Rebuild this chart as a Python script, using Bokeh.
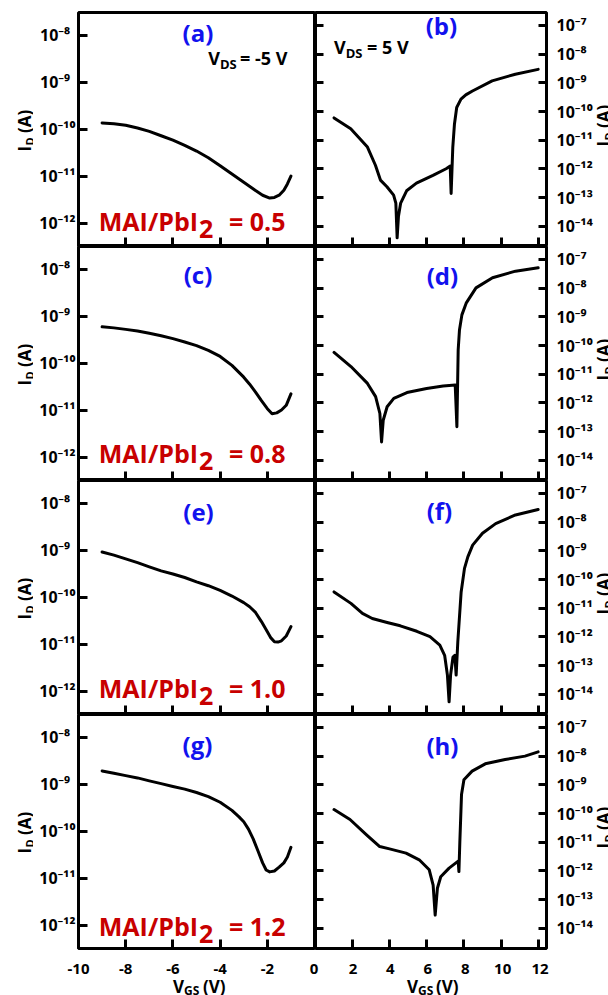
import math
from bokeh.plotting import figure
from bokeh.layouts import column, row
from bokeh.models import FixedTicker, Label, Range1d, LogAxis, CustomJSTickFormatter
from bokeh.embed import file_html
from bokeh.resources import INLINE

# ---------------- data ----------------
# left column: V_DS = -5 V
vgs_a = [-9, -8.5, -8, -7.5, -7, -6.5, -6, -5.5, -5, -4.5, -4, -3.5, -3, -2.5, -2.2,
         -1.9, -1.7, -1.5, -1.3, -1.15, -1]
id_a = [1.35e-10, 1.29e-10, 1.2e-10, 1.05e-10, 8.9e-11, 7.2e-11, 5.8e-11, 4.5e-11,
        3.4e-11, 2.45e-11, 1.66e-11, 1.1e-11, 7.4e-12, 4.9e-12, 3.9e-12, 3.4e-12,
        3.5e-12, 3.9e-12, 5.0e-12, 6.8e-12, 1.0e-11]

vgs_c = [-9, -8.5, -8, -7.5, -7, -6.5, -6, -5.5, -5, -4.5, -4, -3.5, -3, -2.75, -2.5,
         -2.25, -2, -1.8, -1.6, -1.4, -1.2, -1]
id_c = [5.9e-10, 5.6e-10, 5.2e-10, 4.8e-10, 4.3e-10, 3.8e-10, 3.3e-10, 2.8e-10,
        2.35e-10, 1.86e-10, 1.38e-10, 8.9e-11, 5.0e-11, 3.55e-11, 2.4e-11, 1.58e-11,
        1.07e-11, 8.3e-12, 8.7e-12, 1.0e-11, 1.26e-11, 2.2e-11]

vgs_e = [-9, -8.5, -8, -7.5, -7, -6.5, -6, -5.5, -5, -4.5, -4, -3.5, -3, -2.75, -2.5,
         -2.25, -2, -1.85, -1.7, -1.55, -1.4, -1.2, -1]
id_e = [9.1e-10, 7.8e-10, 6.5e-10, 5.4e-10, 4.4e-10, 3.6e-10, 3.1e-10, 2.6e-10,
        2.1e-10, 1.74e-10, 1.38e-10, 1.05e-10, 7.6e-11, 6.2e-11, 4.7e-11, 3.0e-11,
        1.82e-11, 1.35e-11, 1.12e-11, 1.1e-11, 1.17e-11, 1.48e-11, 2.35e-11]

vgs_g = [-9, -8.5, -8, -7.5, -7, -6.5, -6, -5.5, -5, -4.5, -4, -3.5, -3.2, -3, -2.8,
         -2.6, -2.4, -2.2, -2.05, -1.9, -1.7, -1.5, -1.3, -1.15, -1]
id_g = [1.9e-9, 1.7e-9, 1.51e-9, 1.35e-9, 1.17e-9, 1.02e-9, 8.9e-10, 7.8e-10, 6.6e-10,
        5.4e-10, 4.1e-10, 2.75e-10, 2.0e-10, 1.58e-10, 1.1e-10, 6.8e-11, 3.8e-11,
        2.1e-11, 1.48e-11, 1.35e-11, 1.41e-11, 1.7e-11, 2.1e-11, 2.8e-11, 4.5e-11]

# right column: V_DS = 5 V
vgs_b = [1.0, 1.9, 2.8, 3.23, 3.5, 3.85, 4.21, 4.33, 4.4, 4.47, 4.59, 4.91, 5.44,
         6.33, 7.04, 7.26, 7.31, 7.4, 7.49, 7.61, 7.84, 8.1, 8.46, 9.52, 10.77, 12.0]
id_b = [6.0e-11, 2.5e-11, 5.8e-12, 1.35e-12, 4.1e-13, 2.4e-13, 1.23e-13, 6.5e-14,
        4.0e-15, 2.2e-14, 6.5e-14, 1.74e-13, 3.2e-13, 6.0e-13, 1.02e-12, 1.26e-12,
        1.41e-13, 5.8e-12, 3.7e-11, 1.38e-10, 2.7e-10, 3.8e-10, 5.2e-10, 1.17e-9,
        2.0e-9, 2.95e-9]

vgs_d = [1.0, 1.91, 2.8, 3.24, 3.47, 3.56, 3.65, 3.86, 4.22, 4.93, 5.99, 6.88, 7.53,
         7.62, 7.69, 7.76, 7.89, 8.12, 8.65, 9.54, 10.78, 12.0]
id_d = [5.8e-11, 1.86e-11, 4.8e-12, 1.66e-12, 4.3e-13, 4.4e-14, 2.5e-13, 7.4e-13,
        1.45e-12, 2.3e-12, 3.2e-12, 3.9e-12, 4.2e-12, 1.48e-13, 7.1e-11, 3.5e-10,
        1.17e-9, 3.0e-9, 1.02e-8, 2.3e-8, 3.9e-8, 5.1e-8]

vgs_f = [1.0, 1.91, 2.53, 3.06, 3.86, 4.57, 5.46, 6.17, 6.7, 6.96, 7.11, 7.2, 7.28,
         7.41, 7.51, 7.58, 7.67, 7.85, 8.03, 8.21, 8.47, 9.0, 9.71, 10.78, 12.0]
id_f = [3.7e-11, 1.48e-11, 6.6e-12, 4.4e-12, 3.2e-12, 2.45e-12, 1.58e-12, 1.02e-12,
        5.2e-13, 2.3e-13, 4.7e-14, 5.5e-15, 4.7e-14, 2.0e-13, 2.3e-13, 4.7e-14,
        6.8e-13, 3.7e-11, 2.45e-10, 6.2e-10, 1.58e-9, 4.1e-9, 8.9e-9, 1.78e-8, 2.75e-8]

vgs_h = [1.0, 1.86, 2.75, 3.46, 3.99, 4.88, 5.59, 6.13, 6.34, 6.45, 6.57, 6.75, 7.2,
         7.69, 7.73, 7.78, 7.87, 8.0, 8.44, 9.15, 10.22, 11.29, 12.0]
id_h = [1.38e-10, 6.2e-11, 1.82e-11, 7.1e-12, 5.9e-12, 4.2e-12, 2.45e-12, 1.1e-12,
        3.2e-13, 2.9e-14, 2.5e-13, 6.3e-13, 1.26e-12, 2.2e-12, 9.5e-13, 1.07e-11,
        4.6e-10, 1.51e-9, 3.0e-9, 5.4e-9, 7.6e-9, 1.0e-8, 1.41e-8]

panel_letters = ["(a)", "(b)", "(c)", "(d)", "(e)", "(f)", "(g)", "(h)"]
ratios = ["0.5", "0.8", "1.0", "1.2"]

SP = "\u2004"  # pad so that left tick labels line up on their left side
left_y_ticks = [1e-12, 1e-11, 1e-10, 1e-9, 1e-8]
left_y_labels = ["10\u207b\u00b9\u00b2", "10\u207b\u00b9\u00b9", "10\u207b\u00b9\u2070",
                 "10\u207b\u2079" + SP, "10\u207b\u2078" + SP]
right_y_ticks = [1e-14, 1e-13, 1e-12, 1e-11, 1e-10, 1e-9, 1e-8, 1e-7]
right_y_labels = ["10\u207b\u00b9\u2074", "10\u207b\u00b9\u00b3", "10\u207b\u00b9\u00b2",
                  "10\u207b\u00b9\u00b9", "10\u207b\u00b9\u2070", "10\u207b\u2079",
                  "10\u207b\u2078", "10\u207b\u2077"]
left_x_ticks = [-10, -8, -6, -4, -2]
left_x_labels = ["-10", "-8", "-6", "-4", "-2"]
right_x_ticks = [0, 2, 4, 6, 8, 10, 12]
right_x_labels = ["0", "2", "4", "6", "8", "10", "12"]

# ---------------- geometry (page pixels) ----------------
COL_X = [(78, 315), (315, 548)]
ROW_TOP = [12, 246, 480, 714]
ROW_H = 234
X_RANGES = [(-10, 0.04), (0, 12.45)]
Y_LOG = [(-12.5, -7.52), (-14.7, -6.55)]
STRIP_L = 33
STRIP_R = 13
FIG_W = [282, 280]
BORDER_L = 45
BORDER_R = 47
FIG_H = [246, 234, 234, 236]
STRIP_B = 995 - sum(FIG_H)
STRIP_B_TOP = sum(FIG_H)

FONT = "Open Sans"
TICK_FONT = "Noto Sans"
BLUE = "#1212ee"
RED = "#c80000"
NBSP = "\u00a0"


def to_data(r, c, px, py):
    x0p, x1p = COL_X[c]
    xa, xb = X_RANGES[c]
    x = xa + (px - x0p) / (x1p - x0p) * (xb - xa)
    la, lb = Y_LOG[c]
    l = lb - (py - ROW_TOP[r]) / ROW_H * (lb - la)
    return float(x), float(10 ** l)


def page_x(c, xv):
    x0p, x1p = COL_X[c]
    xa, xb = X_RANGES[c]
    return x0p + (xv - xa) / (xb - xa) * (x1p - x0p)


def label(p, x, y, text, size, color="black", style="bold", align="left",
          angle=0.0, font=FONT):
    p.add_layout(Label(x=x, y=y, text=text, text_font=font,
                       text_font_size=f"{size}px", text_font_style=style,
                       text_color=color, text_align=align,
                       text_baseline="middle", angle=angle))


def put(p, r, c, px, py, text, size, **kw):
    x, y = to_data(r, c, px, py)
    label(p, x, y, text, size, **kw)


def formatter(tvals, tlabels):
    return CustomJSTickFormatter(args=dict(tvals=tvals, tlabels=tlabels), code="""
        for (let i = 0; i < tvals.length; i++) {
            if (Math.abs(tvals[i] - tick) <= 1e-6 * Math.abs(tvals[i])) return tlabels[i];
        }
        return "";
    """)


def style_axis(ax, tvals, tlabels, tick_len, show, standoff=0, size=16):
    ax.ticker = FixedTicker(ticks=tvals)
    ax.major_tick_in = tick_len
    ax.major_tick_out = 0
    ax.major_tick_line_width = 3
    ax.major_tick_line_color = "black"
    ax.minor_tick_line_color = None
    ax.axis_line_color = None
    if show:
        ax.formatter = formatter(tvals, tlabels)
        ax.major_label_text_font = TICK_FONT
        ax.major_label_text_font_style = "bold"
        ax.major_label_text_font_size = f"{size}px"
        ax.major_label_text_color = "black"
        ax.major_label_standoff = standoff
    else:
        ax.major_label_text_font_size = "1px"
        ax.major_label_text_color = None
        ax.major_label_standoff = 0


def strip(w, h):
    s = figure(width=w, height=h, x_range=Range1d(0, w), y_range=Range1d(h, 0),
               output_backend="svg", toolbar_location=None, min_border=0,
               x_axis_location=None, y_axis_location=None)
    s.outline_line_color = None
    s.grid.visible = False
    s.background_fill_color = "white"
    s.border_fill_color = "white"
    return s


data = [(vgs_a, id_a), (vgs_b, id_b), (vgs_c, id_c), (vgs_d, id_d),
        (vgs_e, id_e), (vgs_f, id_f), (vgs_g, id_g), (vgs_h, id_h)]

letter_pos = [(197.5, 32), (442, 25), (197.5, 274), (443, 275),
              (198, 511), (440, 510), (197, 744), (443, 745)]
mai_base = [230, 462, 697, 935]

figs = {}
for i, (xs, ys) in enumerate(data):
    r, c = i // 2, i % 2
    la, lb = Y_LOG[c]
    p = figure(width=FIG_W[c], height=FIG_H[r],
               x_range=Range1d(*X_RANGES[c]),
               y_range=Range1d(10 ** la, 10 ** lb),
               y_axis_type="log", output_backend="svg", toolbar_location=None,
               min_border_left=BORDER_L if c == 0 else 0,
               min_border_right=0 if c == 0 else BORDER_R,
               min_border_top=12 if r == 0 else 0,
               min_border_bottom=FIG_H[3] - ROW_H if r == 3 else 0)
    p.outline_line_color = "black"
    p.outline_line_width = 3
    p.grid.visible = False
    p.background_fill_color = "white"
    p.border_fill_color = "white"

    if c == 0:
        style_axis(p.xaxis[0], left_x_ticks, left_x_labels, 9, False)
        style_axis(p.yaxis[0], left_y_ticks, left_y_labels, 9, True, standoff=3)
    else:
        style_axis(p.xaxis[0], right_x_ticks, right_x_labels, 9, False)
        style_axis(p.yaxis[0], right_y_ticks, right_y_labels, 8, False)
        rax = LogAxis()
        style_axis(rax, right_y_ticks, right_y_labels, 8, True, standoff=10)
        p.add_layout(rax, "right")

    p.line(xs, ys, line_width=3, line_color="black",
           line_join="round", line_cap="round")

    lx, ly = letter_pos[i]
    put(p, r, c, lx, ly, panel_letters[i], 24, color=BLUE, align="center")

    if c == 0:
        b = mai_base[r]
        put(p, r, c, 197.5, b - 10, "MAI/PbI", 25, color=RED, align="right")
        put(p, r, c, 198.5, b - 2, "2", 25, color=RED)
        put(p, r, c, 285, b - 10, "= " + ratios[r], 25, color=RED, align="right")

    if r == 0 and c == 0:
        put(p, r, c, 219.5, 57.8, "V", 18, align="right")
        put(p, r, c, 219.5, 63.8, "DS", 13)
        put(p, r, c, 287, 57.8, "= -5 V", 18, align="right")
    if r == 0 and c == 1:
        put(p, r, c, 345.5, 46.8, "V", 18, align="right")
        put(p, r, c, 345.5, 52.8, "DS", 13)
        put(p, r, c, 409, 46.8, "= 5 V", 18, align="right")

    figs[(r, c)] = p

# axis titles with subscripts live in thin strips around the panels
ang = math.pi / 2
left_strip = strip(STRIP_L, 995)
right_strip = strip(STRIP_R, 995)
x_right = 602.9 - (608 - STRIP_R)
for r in range(4):
    cy = ROW_TOP[r] + 118
    label(left_strip, 23.5, cy + 21, "I", 17, angle=ang)
    label(left_strip, 29.0, cy + 15, "D", 11, angle=ang)
    label(left_strip, 23.5, cy + 7, NBSP + "(A)", 17, angle=ang)
    cy = ROW_TOP[r] + 113
    label(right_strip, x_right, cy + 21, "I", 17, angle=ang)
    label(right_strip, x_right + 5, cy + 15, "D", 11, angle=ang)
    label(right_strip, x_right, cy + 7, NBSP + "(A)", 17, angle=ang)

# x tick labels and x titles in a strip below the bottom row
bottom_strip = strip(FIG_W[0] + FIG_W[1], STRIP_B)
for c, (tv, tl) in enumerate([(left_x_ticks, left_x_labels), (right_x_ticks, right_x_labels)]):
    for t, s in zip(tv, tl):
        label(bottom_strip, page_x(c, t) - STRIP_L - (1.5 if (c == 1 and t == 0) else 0),
              968 - STRIP_B_TOP, s, 15, align="center", font=TICK_FONT)
for vx, gx in [(183.5, 225), (417.5, 458)]:
    label(bottom_strip, vx - STRIP_L, 985.5 - STRIP_B_TOP, "V", 17, align="right")
    label(bottom_strip, vx - STRIP_L, 989.5 - STRIP_B_TOP, "GS", 12)
    label(bottom_strip, gx - STRIP_L, 985.5 - STRIP_B_TOP, "(V)", 17, align="right")

middle = column(*[row(figs[(r, 0)], figs[(r, 1)]) for r in range(4)], bottom_strip)
layout = row(left_strip, middle, right_strip)

open("out.html", "w").write(file_html(layout, INLINE, title="ID-VGS"))
